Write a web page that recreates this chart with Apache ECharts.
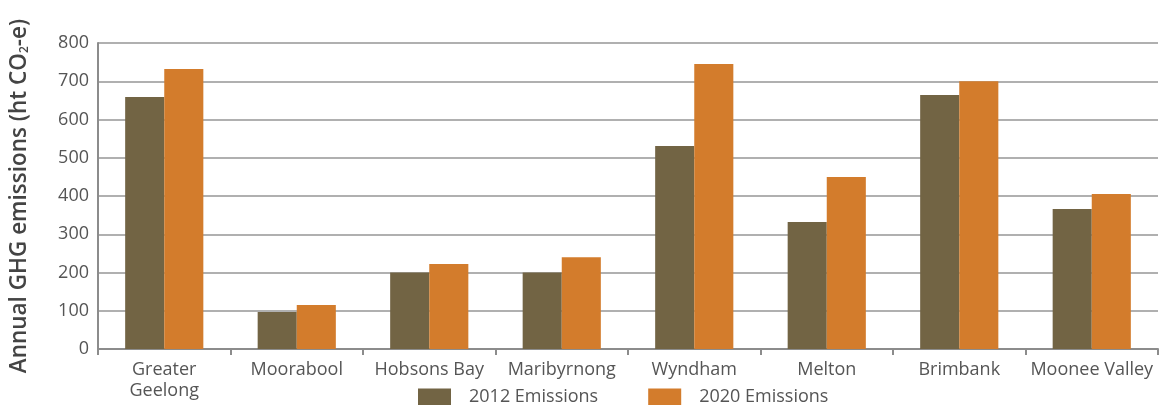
<!DOCTYPE html>
<html>
<head>
<meta charset="utf-8">
<script src="https://cdn.jsdelivr.net/npm/echarts@6/dist/echarts.min.js"></script>
<style>
  html, body { margin: 0; padding: 0; background: #fff; }
  #main { width: 1161px; height: 405px; }
</style>
</head>
<body>
<div id="main"></div>
<script>
// 数据
var councils = ["Greater\nGeelong", "Moorabool", "Hobsons Bay", "Maribyrnong", "Wyndham", "Melton", "Brimbank", "Moonee Valley"];
var emissions2012 = [659, 97, 200, 200, 531, 332, 664, 366];
var emissions2020 = [732, 115, 222, 240, 745, 450, 700, 405];
var yTicks = [0, 100, 200, 300, 400, 500, 600, 700, 800];

var myChart = echarts.init(document.getElementById("main"));
var font = "'Open Sans', 'Noto Sans', sans-serif";

var option = {
  animation: false,
  textStyle: { fontFamily: font },
  grid: { left: 97, right: 3, top: 43, bottom: 56, containLabel: false },
  legend: {
    bottom: -6,
    left: 413,
    itemWidth: 33,
    itemHeight: 17,
    itemGap: 50,
    icon: "rect",
    textStyle: { fontSize: 18, color: "#555", fontFamily: font, padding: [0, 0, 0, 13] },
    data: ["2012 Emissions", "2020 Emissions"]
  },
  xAxis: {
    type: "category",
    data: councils,
    axisLine: { lineStyle: { color: "#8c8c8c", width: 2 } },
    axisTick: { show: true, length: 6, lineStyle: { color: "#8c8c8c", width: 2 } },
    axisLabel: { interval: 0, fontSize: 18, color: "#555", lineHeight: 21, margin: 10, fontFamily: font }
  },
  yAxis: {
    type: "value",
    min: yTicks[0],
    max: yTicks[yTicks.length - 1],
    interval: 100,
    name: "Annual GHG emissions (ht CO{sub|2}-e)",
    nameLocation: "middle",
    nameGap: 67,
    nameTextStyle: {
      fontSize: 22.5,
      fontWeight: 600,
      color: "#444",
      fontFamily: font,
      rich: {
        sub: { fontSize: 12, fontWeight: 600, color: "#444", verticalAlign: "bottom", padding: [10, 0, 0, 0] }
      }
    },
    axisLine: { show: true, lineStyle: { color: "#8c8c8c", width: 2 } },
    axisTick: { show: false },
    axisLabel: { fontSize: 18, color: "#555", margin: 9, fontFamily: font },
    splitLine: { lineStyle: { color: "#b0b0b0", width: 2 } }
  },
  series: [
    {
      name: "2012 Emissions",
      type: "bar",
      data: emissions2012,
      barGap: "0%",
      barCategoryGap: "41%",
      itemStyle: { color: "#726444" }
    },
    {
      name: "2020 Emissions",
      type: "bar",
      data: emissions2020,
      itemStyle: { color: "#d37c2c" }
    }
  ]
};

myChart.setOption(option);
</script>
</body>
</html>
